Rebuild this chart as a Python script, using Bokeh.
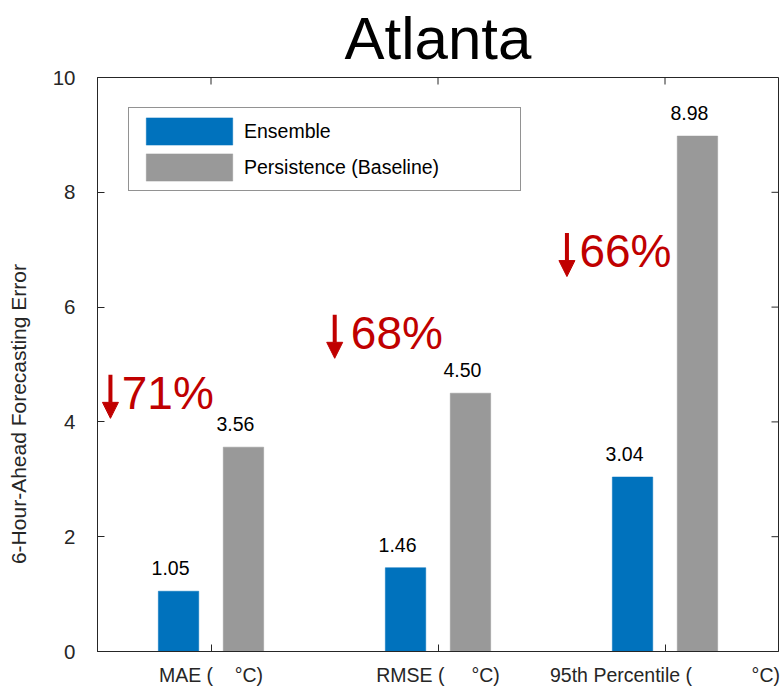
import math
import numpy as np
from bokeh.plotting import figure
from bokeh.models import Range1d, FixedTicker, Legend, LegendItem, Arrow, NormalHead
from bokeh.core.properties import value
from bokeh.embed import file_html
from bokeh.resources import INLINE

# ---- data -------------------------------------------------------------
city = "Atlanta"
metric_names = ["MAE (", "RMSE (", "95th Percentile ("]
metric_gaps = [4, 5, 11]          # non-breaking spaces before the degree sign
ensemble = [1.05, 1.46, 3.04]
persistence = [3.56, 4.50, 8.98]
series_names = ["Ensemble", "Persistence (Baseline)"]
y_ticks = [0, 2, 4, 6, 8, 10]
y_axis_title = "6-Hour-Ahead Forecasting Error"

# reduction call-outs: arrow centre, text start and text baseline (data units)
arrow_x = [0.557, 1.545, 2.568]
pct_x = [0.607, 1.616, 2.623]
pct_y = [4.21, 5.256, 6.68]

# ---- styling -----------------------------------------------------------
FONT = "Liberation Sans"
AX = "#262626"
BLUE = "#0072BD"
GREY = "#999999"
RED = "#C00000"
BAR_W = 0.178
OFFSET = 0.143
PX = 574 / 10.0                    # pixels per y unit

groups = np.arange(1, len(metric_names) + 1)
tick_labels = {int(g): name + "\u00a0" * gap + "\u00b0C)"
               for g, name, gap in zip(groups, metric_names, metric_gaps)}
reduction = [f"{round((1 - e / b) * 100)}%" for e, b in zip(ensemble, persistence)]

x_range = Range1d(0.5, 3.5)
y_range = Range1d(0, 10)
p = figure(frame_width=681, frame_height=574,
           x_range=x_range, y_range=y_range,
           output_backend="svg", toolbar_location=None,
           min_border_left=97, min_border_right=4,
           min_border_top=77, min_border_bottom=39,
           background_fill_color="white", border_fill_color="white")
p.outline_line_color = AX
p.outline_line_width = 1
p.grid.visible = False

# title
p.title.text = city
p.title.align = "center"
p.title.vertical_align = "top"
p.title.offset = -3
p.title.text_font = FONT
p.title.text_font_style = "normal"
p.title.text_font_size = "60px"
p.title.text_line_height = 1.0
p.title.text_color = "black"
p.title.standoff = 8

def style_axis(ax):
    ax.axis_line_color = AX
    ax.axis_line_width = 1
    ax.major_tick_line_color = AX
    ax.major_tick_in = 7
    ax.major_tick_out = 0
    ax.minor_tick_in = 0
    ax.minor_tick_out = 0
    ax.minor_tick_line_color = None
    ax.major_label_text_font = FONT
    ax.major_label_text_color = AX

xa = p.xaxis[0]
xa.ticker = FixedTicker(ticks=list(groups))
xa.major_label_overrides = tick_labels
style_axis(xa)
xa.major_label_text_font_size = "19.5px"
xa.major_label_standoff = 12

ya = p.yaxis[0]
ya.ticker = FixedTicker(ticks=y_ticks)
style_axis(ya)
ya.major_label_text_font_size = "20.5px"
ya.major_label_standoff = 22
# the title sits a little below the middle of the axis
ya.axis_label = y_axis_title + "\u00a0" * 17
ya.axis_label_text_font = FONT
ya.axis_label_text_font_style = "normal"
ya.axis_label_text_font_size = "21px"
ya.axis_label_text_color = AX
ya.axis_label_standoff = 20

# mirrored ticks on the top and right edges of the box
p.ray(x=list(groups), y=[y_range.end] * len(groups), length=7,
      length_units="screen", angle=-math.pi / 2, line_color=AX, line_width=1)
p.ray(x=[x_range.end] * len(y_ticks), y=y_ticks, length=7,
      length_units="screen", angle=math.pi, line_color=AX, line_width=1)

# bars
r_ens = p.vbar(x=groups - OFFSET, top=ensemble, width=BAR_W,
               fill_color=BLUE, line_color=BLUE, line_width=0.5)
r_per = p.vbar(x=groups + OFFSET, top=persistence, width=BAR_W,
               fill_color=GREY, line_color=GREY, line_width=0.5)

# value labels above bars
for xs, vals in ((groups - OFFSET, ensemble), (groups + OFFSET, persistence)):
    p.text(x=list(xs), y=vals, text=[f"{v:.2f}" for v in vals],
           text_align="center", text_baseline="alphabetic",
           x_offset=-8, y_offset=-23,
           text_font=value(FONT), text_font_size="19.5px", text_color="black")

# reduction call-outs: red down arrow + percentage
p.text(x=pct_x, y=pct_y, text=reduction,
       text_align="left", text_baseline="alphabetic", y_offset=-17,
       text_font=value(FONT), text_font_size="46px", text_color=RED)
for ax_, base in zip(arrow_x, pct_y):
    p.add_layout(Arrow(x_start=ax_, y_start=base + 35 / PX,
                       x_end=ax_, y_end=base - 8.5 / PX,
                       line_color=RED, line_width=4,
                       end=NormalHead(size=16, fill_color=RED,
                                      line_color=RED, line_width=1)))

# legend
legend = Legend(items=[LegendItem(label=series_names[0], renderers=[r_ens]),
                       LegendItem(label=series_names[1], renderers=[r_per])],
                location=(31, 460), orientation="vertical",
                glyph_width=108, glyph_height=34, label_height=34,
                label_width=270, label_standoff=1, padding=6, spacing=2,
                margin=0,
                label_text_font=FONT, label_text_font_size="19.5px",
                label_text_color="black",
                border_line_color=AX, border_line_width=1,
                background_fill_color="white", background_fill_alpha=1)
p.add_layout(legend, "center")

open("out.html", "w").write(file_html(p, INLINE))
